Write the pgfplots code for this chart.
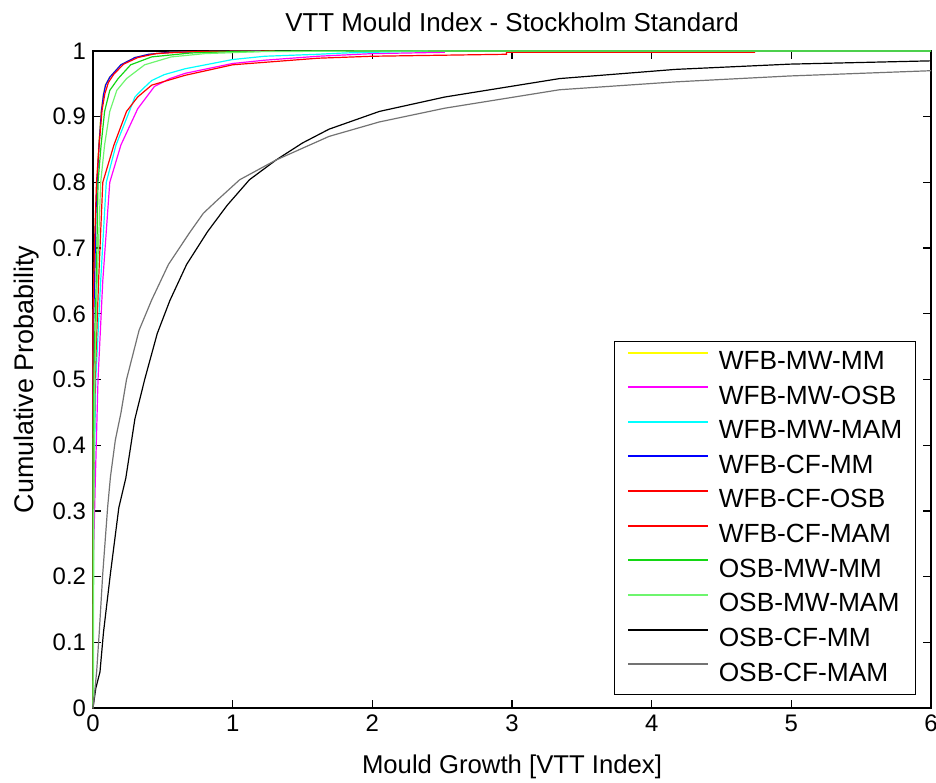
\documentclass[border=0pt]{standalone}
\usepackage{fontspec}
\setmainfont{Liberation Sans}
\usepackage{pgfplots}
\pgfplotsset{compat=1.18}

\definecolor{cgreen}{RGB}{20,215,20}
\definecolor{clgreen}{RGB}{110,245,110}
\definecolor{cgray}{RGB}{115,115,115}
\definecolor{cyellow}{RGB}{255,255,0}
\definecolor{cmag}{RGB}{255,0,255}
\definecolor{ccyan}{RGB}{0,255,255}
\definecolor{cblue}{RGB}{0,0,255}
\definecolor{cred}{RGB}{255,0,0}

\begin{document}
\begin{tikzpicture}
\begin{axis}[
  scale only axis, width=419bp, height=328.5bp,
  xmin=0, xmax=6, ymin=0, ymax=1,
  xtick={0,...,6}, ytick={0,0.1,...,1},
  tick align=inside, major tick length=4bp,
  axis line style={line width=0.6bp},
  every tick/.style={black, line width=0.6bp},
  font=\fontsize{12.5}{15}\selectfont,
  tick label style={font=\fontsize{12}{14}\selectfont},
  /pgf/number format/assume math mode=true,
  yticklabel style={/pgf/number format/fixed},
  clip=false,
  every axis title shift=0pt,
  title={VTT Mould Index - Stockholm Standard},
  title style={at={(axis description cs:0.5,1.0304)}, anchor=base, inner sep=0pt,
    font=\fontsize{13}{15}\selectfont},
  xlabel={Mould Growth [VTT Index]},
  xlabel style={at={(axis description cs:0.5,-0.1)}, anchor=base, inner sep=0pt,
    font=\fontsize{12.9}{15}\selectfont},
  ylabel={Cumulative Probability},
  ylabel style={at={(axis description cs:-0.0714,0.5)}, anchor=base, inner sep=0pt,
    font=\fontsize{13.5}{15}\selectfont},
  legend style={at={(axis description cs:0.982,0.0198)}, anchor=south east,
    draw=black, line width=0.6bp, fill=white,
    inner xsep=6.5bp, inner ysep=5.1bp, row sep=6.65bp,
    nodes={inner sep=0pt}, font=\fontsize{13.2}{15}\selectfont},
  legend cell align=left,
  legend image code/.code={\draw[#1, line width=0.9bp] (0bp,4.6bp) -- (40bp,4.6bp); \path (45bp,0bp);},
  every axis plot/.append style={line width=0.6bp},
]
% WFB-MW-MM
\addplot[draw=cyellow] coordinates {
(0,0) (0,0.45) (0.004,0.6) (0.01,0.65) (0.018,0.75) (0.028,0.8) (0.041,0.857)
(0.058,0.908) (0.073,0.933) (0.088,0.948) (0.118,0.96) (0.2,0.979) (0.3,0.99)
(0.4,0.995) (0.55,0.998) (0.8,0.999) (1.2,1)};
% WFB-MW-OSB
\addplot[draw=cmag] coordinates {
(0,0) (0,0.2) (0.017,0.35) (0.036,0.5) (0.07,0.65) (0.12,0.8) (0.2,0.857)
(0.32,0.912) (0.44,0.946) (0.55,0.958) (0.66,0.966) (1,0.981) (1.23,0.986)
(1.61,0.992) (2,0.996) (2.52,0.998)};
% WFB-MW-MAM
\addplot[draw=ccyan] coordinates {
(0,0) (0,0.3) (0.008,0.35) (0.02,0.5) (0.055,0.65) (0.095,0.8) (0.165,0.857)
(0.26,0.908) (0.3,0.93) (0.36,0.943) (0.42,0.955) (0.51,0.964) (0.66,0.973)
(1,0.987) (1.23,0.992) (1.61,0.995) (1.8,0.997) (2.2,0.999) (2.4,1)};
% WFB-CF-MM
\addplot[draw=cblue] coordinates {
(0,0) (0,0.5) (0.005,0.6) (0.012,0.65) (0.02,0.75) (0.03,0.8) (0.043,0.857)
(0.06,0.908) (0.075,0.933) (0.09,0.948) (0.12,0.96) (0.2,0.979) (0.3,0.99)
(0.4,0.995) (0.55,0.998) (0.8,0.999) (1.2,1)};
% WFB-CF-OSB
\addplot[draw=cred] coordinates {
(0,0) (0,0.25) (0.005,0.35) (0.015,0.5) (0.04,0.65) (0.07,0.8) (0.15,0.857)
(0.24,0.908) (0.32,0.93) (0.42,0.948) (0.66,0.963) (1,0.979) (1.61,0.989)
(2,0.992) (2.96,0.995) (2.96,0.998) (4.74,0.998)};
% WFB-CF-MAM
\addplot[draw=cred] coordinates {
(0,0) (0,0.6) (0.01,0.7) (0.025,0.8) (0.045,0.86) (0.065,0.91) (0.085,0.935)
(0.11,0.952) (0.15,0.965) (0.22,0.98) (0.32,0.99) (0.45,0.996) (0.7,0.999) (1.3,1)};
% OSB-MW-MM
\addplot[draw=cgreen] coordinates {
(0,0) (0,0.4) (0.01,0.55) (0.024,0.65) (0.036,0.8) (0.058,0.857) (0.083,0.908)
(0.12,0.94) (0.18,0.958) (0.27,0.979) (0.42,0.991) (0.7,0.997) (1,0.999) (1.5,1) (6,1)};
% OSB-MW-MAM
\addplot[draw=clgreen] coordinates {
(0,0) (0.003,0.05) (0.006,0.3) (0.012,0.5) (0.03,0.65) (0.055,0.8) (0.083,0.857)
(0.12,0.908) (0.17,0.94) (0.24,0.958) (0.37,0.979) (0.56,0.991) (0.8,0.996)
(1.2,0.999) (2,1) (6,1)};
% OSB-CF-MM
\addplot[draw=black] coordinates {
(0,0) (0.02,0.03) (0.05,0.055) (0.075,0.115) (0.125,0.205) (0.185,0.305)
(0.235,0.35) (0.3,0.44) (0.37,0.5) (0.46,0.57) (0.55,0.62) (0.67,0.675)
(0.82,0.725) (0.96,0.765) (1.12,0.804) (1.31,0.834) (1.5,0.86) (1.69,0.881)
(2.05,0.908) (2.52,0.93) (3.34,0.958) (4.17,0.972) (4.99,0.98) (6,0.985)};
% OSB-CF-MAM
\addplot[draw=cgray] coordinates {
(0,0) (0.01,0.02) (0.026,0.055) (0.045,0.116) (0.07,0.205) (0.105,0.306)
(0.125,0.352) (0.16,0.408) (0.2,0.449) (0.24,0.5) (0.33,0.575) (0.42,0.621)
(0.54,0.675) (0.69,0.723) (0.79,0.753) (0.89,0.773) (1.05,0.804) (1.31,0.834)
(1.5,0.852) (1.69,0.87) (2.05,0.892) (2.52,0.913) (3.34,0.941) (4.17,0.953)
(4.99,0.962) (6,0.97)};
\legend{WFB-MW-MM,WFB-MW-OSB,WFB-MW-MAM,WFB-CF-MM,WFB-CF-OSB,WFB-CF-MAM,OSB-MW-MM,OSB-MW-MAM,OSB-CF-MM,OSB-CF-MAM}
\end{axis}
\pgfresetboundingbox
\path[use as bounding box] ([shift={(-46.5bp,-37bp)}]current axis.south west)
  rectangle ([shift={(2.5bp,25.5bp)}]current axis.north east);
\end{tikzpicture}
\end{document}
